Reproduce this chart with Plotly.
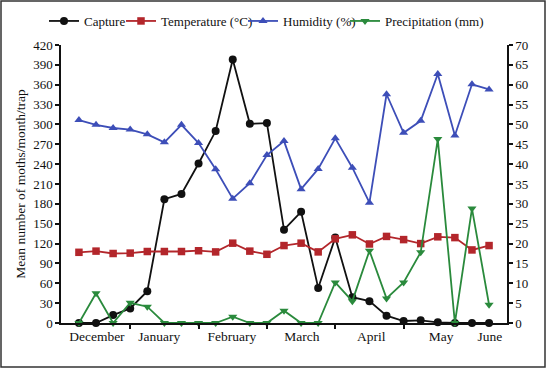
import plotly.graph_objects as go

# ---- data ----
capture = [0, 0, 12, 22, 48, 187, 195, 241, 290, 398, 301, 302, 141, 168, 53, 129, 39, 33, 11, 3, 4, 1, 0, 0, 0]
temperature = [17.8, 18.1, 17.5, 17.6, 18.0, 18.0, 18.0, 18.2, 17.9, 20.1, 18.1, 17.3, 19.5, 20.1, 17.9,
               21.2, 22.2, 19.9, 21.8, 21.0, 20.0, 21.7, 21.5, 18.4, 19.5]
humidity = [51.1, 49.9, 49.1, 48.7, 47.5, 45.5, 49.9, 45.3, 38.7, 31.3, 35.2, 42.3, 45.8, 33.7, 38.8,
            46.5, 39.1, 30.3, 57.6, 47.9, 50.9, 62.7, 47.2, 60.1, 58.8]
precipitation = [0, 7.5, 0, 5.1, 4.1, 0, 0, 0, 0, 1.6, 0, 0, 3.1, 0, 0,
                 10.2, 5.5, 18.2, 6.2, 10.2, 17.8, 46.3, 0, 28.8, 4.6]
month_labels = ["December", "January", "February", "March", "April", "May", "June"]
series_names = ["Capture", "Temperature (°C)", "Humidity (%)", "Precipitation (mm)"]

x = list(range(len(capture)))
label_pos = [1.05, 4.7, 8.95, 13.05, 17.1, 21.2, 24.05]
tick_marks = [3, 7, 11, 15, 19]
legend_text_px = [86, 163, 285, 387]   # left edge of each legend text

FONT = "Liberation Serif"
BLACK = "#111111"
RED = "#B3262B"
BLUE = "#3D4EB8"
GREEN = "#2A8A3C"

W, H = 546, 368
L, R, T, B = 61, 39, 45, 45

series = [
    (capture, BLACK, "circle", 8, "y"),
    (temperature, RED, "square", 7.5, "y2"),
    (humidity, BLUE, "triangle-up", 8, "y2"),
    (precipitation, GREEN, "triangle-down", 8, "y2"),
]
legend_ids = ["legend", "legend2", "legend3", "legend4"]

fig = go.Figure()
for (vals, col, sym, size, yax), name, lg in zip(series, series_names, legend_ids):
    fig.add_trace(go.Scatter(x=x, y=vals, name=name, mode="lines+markers",
                             line=dict(color=col, width=1.8),
                             marker=dict(symbol=sym, size=size, color=col),
                             cliponaxis=False, yaxis=yax, legend=lg))

legend_layout = {}
for lg, px in zip(legend_ids, legend_text_px):
    legend_layout[lg] = dict(orientation="h", xref="container", yref="container",
                             x=(px - 42) / W, xanchor="left", y=1 - 21 / H, yanchor="middle",
                             font=dict(family=FONT, size=13), itemwidth=30,
                             bgcolor="rgba(0,0,0,0)", borderwidth=0)

fig.update_layout(
    width=W, height=H,
    margin=dict(l=L, r=R, t=T, b=B, autoexpand=False),
    paper_bgcolor="white", plot_bgcolor="white",
    font=dict(family=FONT, size=13, color="#111111"),
    showlegend=True,
    **legend_layout,
    xaxis=dict(range=[-1.05, 25.05], tickmode="array", tickvals=label_pos, ticktext=month_labels,
               ticks="", showgrid=False, zeroline=False, showline=True, linecolor=BLACK, linewidth=1.5,
               tickfont=dict(family=FONT, size=13.5)),
    xaxis2=dict(range=[-1.05, 25.05], overlaying="x", tickmode="array", tickvals=tick_marks,
                showticklabels=False, ticks="outside", ticklen=5, tickwidth=1.5, tickcolor=BLACK,
                showgrid=False, zeroline=False, showline=False, side="bottom"),
    yaxis=dict(range=[0, 420], dtick=30, ticks="outside", ticklen=4, tickwidth=1.5, tickcolor=BLACK,
               showgrid=False, zeroline=False, showline=True, linecolor=BLACK, linewidth=1.5,
               title=dict(text="Mean number of moths/month/trap", font=dict(family=FONT, size=13.5), standoff=4),
               tickfont=dict(family=FONT, size=13)),
    yaxis2=dict(range=[0, 70], dtick=5, overlaying="y", side="right", ticks="outside", ticklen=4,
                tickwidth=1.5, tickcolor=BLACK, showgrid=False, zeroline=False, showline=True,
                linecolor=BLACK, linewidth=1.5, tickfont=dict(family=FONT, size=13)),
)

# invisible trace to activate xaxis2 tick marks
fig.add_trace(go.Scatter(x=[0], y=[0], xaxis="x2", yaxis="y", mode="markers",
                         marker=dict(opacity=0), showlegend=False, hoverinfo="skip"))

pw, ph = W - L - R, H - T - B
fig.add_shape(type="rect", xref="paper", yref="paper",
              x0=(1 - L) / pw, x1=(W - 1 - L) / pw,
              y0=-(B - 1) / ph, y1=1 + (T - 1) / ph,
              line=dict(color="#333333", width=1.5), fillcolor="rgba(0,0,0,0)", layer="below")

fig.write_html("out.html",
               config={"displayModeBar": False},
               post_script="document.body.style.margin='0';document.body.style.overflow='hidden';")
